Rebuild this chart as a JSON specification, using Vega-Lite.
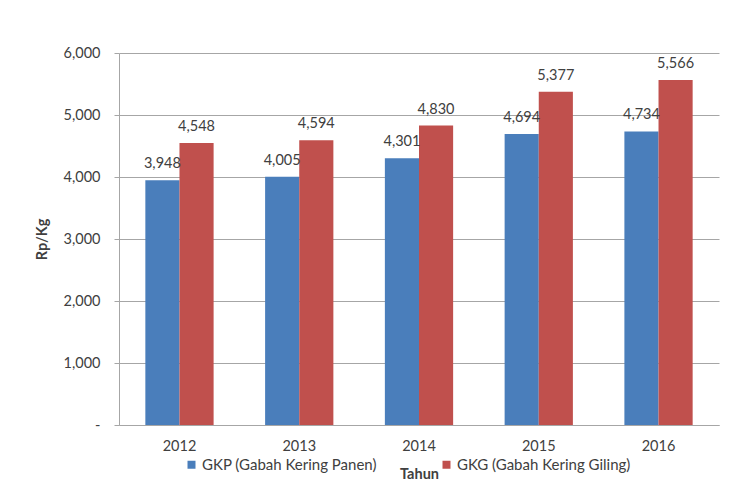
{
  "$schema": "https://vega.github.io/schema/vega-lite/v6.json",
  "width": 600,
  "height": 372,
  "autosize": {"type": "none"},
  "padding": {"left": 119, "top": 53, "right": 12, "bottom": 75},
  "background": "white",
  "data": {
    "values": [
      {"Tahun": "2012", "Jenis": "GKP (Gabah Kering Panen)", "Harga": 3948},
      {"Tahun": "2012", "Jenis": "GKG (Gabah Kering Giling)", "Harga": 4548},
      {"Tahun": "2013", "Jenis": "GKP (Gabah Kering Panen)", "Harga": 4005},
      {"Tahun": "2013", "Jenis": "GKG (Gabah Kering Giling)", "Harga": 4594},
      {"Tahun": "2014", "Jenis": "GKP (Gabah Kering Panen)", "Harga": 4301},
      {"Tahun": "2014", "Jenis": "GKG (Gabah Kering Giling)", "Harga": 4830},
      {"Tahun": "2015", "Jenis": "GKP (Gabah Kering Panen)", "Harga": 4694},
      {"Tahun": "2015", "Jenis": "GKG (Gabah Kering Giling)", "Harga": 5377},
      {"Tahun": "2016", "Jenis": "GKP (Gabah Kering Panen)", "Harga": 4734},
      {"Tahun": "2016", "Jenis": "GKG (Gabah Kering Giling)", "Harga": 5566}
    ]
  },
  "encoding": {
    "x": {
      "field": "Tahun",
      "type": "nominal",
      "scale": {"paddingInner": 0.43, "paddingOuter": 0.22},
      "axis": {
        "title": "Tahun",
        "labelAngle": 0,
        "ticks": false,
        "domain": true,
        "domainColor": "#a6a6a6",
        "labelPadding": 14,
        "labelFontSize": 14.5,
        "labelColor": "#404040",
        "titleFontSize": 14.5,
        "titleFontWeight": "bold",
        "titleColor": "#404040",
        "titlePadding": 15
      }
    },
    "xOffset": {
      "field": "Jenis",
      "type": "nominal",
      "sort": ["GKP (Gabah Kering Panen)", "GKG (Gabah Kering Giling)"]
    },
    "y": {
      "field": "Harga",
      "type": "quantitative",
      "scale": {"domain": [0, 6000]},
      "axis": {
        "title": "Rp/Kg",
        "values": [0, 1000, 2000, 3000, 4000, 5000, 6000],
        "labelExpr": "datum.value == 0 ? '-' : format(datum.value, ',')",
        "grid": true,
        "gridColor": "#a6a6a6",
        "domain": true,
        "domainColor": "#a6a6a6",
        "ticks": true,
        "tickSize": 5,
        "tickColor": "#a6a6a6",
        "labelPadding": 14,
        "labelFontSize": 14.5,
        "labelColor": "#404040",
        "titleFontSize": 14.5,
        "titleFontWeight": "bold",
        "titleColor": "#404040",
        "titlePadding": 14
      }
    }
  },
  "layer": [
    {
      "mark": {"type": "bar"},
      "encoding": {
        "color": {
          "field": "Jenis",
          "type": "nominal",
          "sort": ["GKP (Gabah Kering Panen)", "GKG (Gabah Kering Giling)"],
          "scale": {
            "domain": ["GKP (Gabah Kering Panen)", "GKG (Gabah Kering Giling)"],
            "range": ["#4a7ebb", "#c0504d"]
          },
          "legend": {
            "title": null,
            "orient": "none",
            "legendX": 65,
            "legendY": 404,
            "direction": "horizontal",
            "symbolType": "square",
            "symbolSize": 64,
            "symbolStrokeWidth": 0,
            "labelFontSize": 15,
            "labelColor": "#404040",
            "labelOffset": 3,
            "columnPadding": 62,
            "labelLimit": 300
          }
        }
      }
    },
    {
      "mark": {"type": "text", "baseline": "bottom", "dy": -9, "fontSize": 14.5, "color": "#404040"},
      "encoding": {
        "text": {"field": "Harga", "type": "quantitative", "format": ","}
      }
    }
  ],
  "config": {
    "view": {"stroke": null},
    "font": "Lato"
  }
}
